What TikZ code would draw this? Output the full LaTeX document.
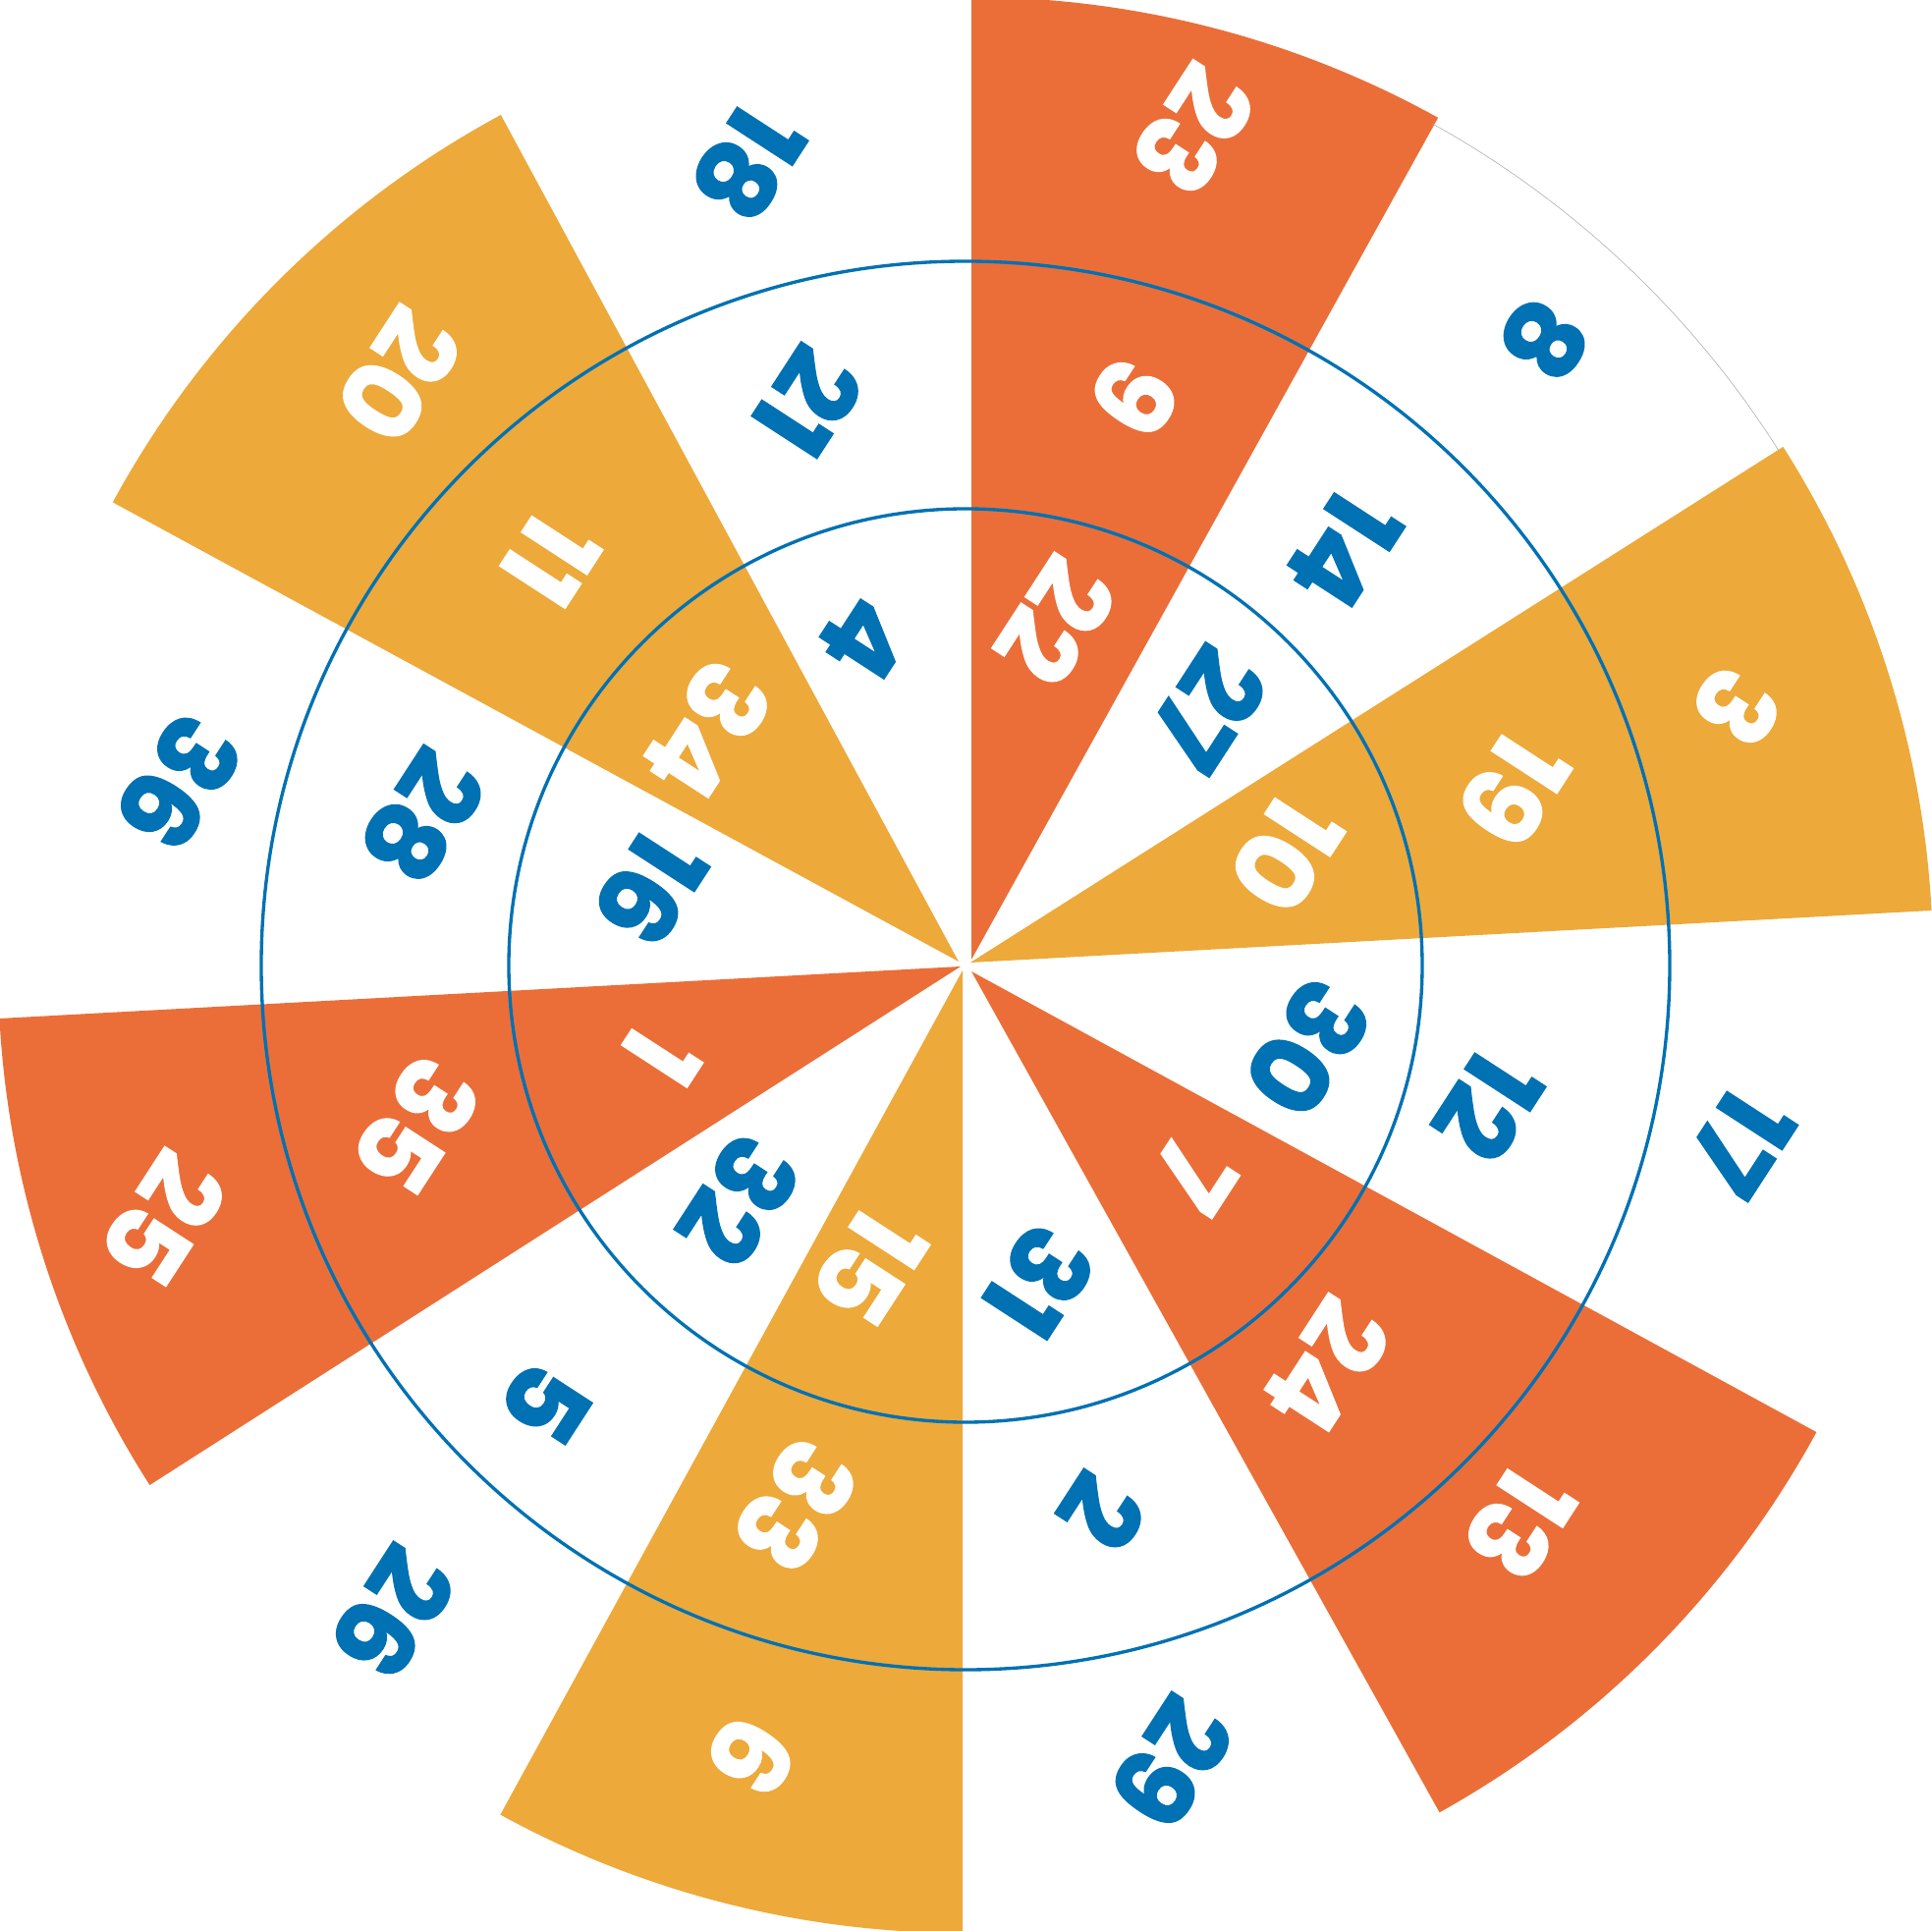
\documentclass[tikz,border=0pt]{standalone}
\usepackage{fontspec}
\setmainfont{Poppins}[BoldFeatures={FakeBold=1.2}]
\definecolor{wheelred}{RGB}{235,110,56}
\definecolor{wheelyellow}{RGB}{237,169,58}
\definecolor{wheelblue}{RGB}{0,113,179}

\begin{document}
\begin{tikzpicture}[
  x=1cm, y=1cm,
  every node/.style={inner sep=0pt},
  num/.style={font=\bfseries\fontsize{31}{31}\selectfont, rotate=-123},
  onpie/.style={num, text=white},
  onblank/.style={num, text=wheelblue},
  redpie/.style={fill=wheelred},
  yellowpie/.style={fill=wheelyellow},
  ring/.style={draw=wheelblue, line width=0.95pt},
  rim/.style={draw=black!35, line width=0.15pt}]

  \useasboundingbox (-9.83,-9.83) rectangle (9.83,9.83);

  % coloured sectors, each one from its own tip
  \fill[redpie,    shift={(0.06,0.06)}]   (0,0) -- (90:9.8)    arc[start angle=90,    end angle=61,     radius=9.8] -- cycle;
  \fill[yellowpie, shift={(0.05,0.03)}]   (0,0) -- (32.4:9.8)  arc[start angle=32.4,  end angle=3.1,    radius=9.8] -- cycle;
  \fill[redpie,    shift={(0.06,-0.06)}]  (0,0) -- (-28.6:9.8) arc[start angle=-28.6, end angle=-60.9,  radius=9.8] -- cycle;
  \fill[yellowpie, shift={(-0.03,-0.05)}] (0,0) -- (-90:9.8)   arc[start angle=-90,   end angle=-118.7, radius=9.8] -- cycle;
  \fill[redpie,    shift={(-0.05,-0.01)}] (0,0) -- (-147.4:9.8) arc[start angle=-147.4, end angle=-176.9, radius=9.8] -- cycle;
  \fill[yellowpie, shift={(-0.07,0.04)}]  (0,0) -- (151.5:9.8) arc[start angle=151.5, end angle=118.4,  radius=9.8] -- cycle;

  % faint rim of the blank sector at the upper right
  \draw[rim] (61:9.8) arc[start angle=61, end angle=32.4, radius=9.8];

  % rings
  \coordinate (c) at (0,0);
  \draw[ring] (c) circle[radius=4.65];
  \draw[ring] (c) circle[radius=7.17];

  % outer ring
  \node[onpie]   (o23) at ( 2.32, 8.51) {23};
  \node[onblank] (o8)  at ( 5.89, 6.37) {8};
  \node[onpie]   (o3)  at ( 7.85, 2.63) {3};
  \node[onblank] (o17) at ( 7.89,-1.80) {17};
  \node[onpie]   (o13) at ( 5.64,-5.68) {13};
  \node[onblank] (o29) at ( 2.10,-8.11) {29};
  \node[onpie]   (o6)  at (-2.18,-8.05) {6};
  \node[onblank] (o26) at (-5.83,-6.59) {26};
  \node[onpie]   (o25) at (-8.16,-2.58) {25};
  \node[onblank] (o36) at (-8.01, 1.86) {36};
  \node[onpie]   (o20) at (-5.77, 6.01) {20};
  \node[onblank] (o18) at (-2.22, 8.17) {18};

  % middle ring
  \node[onpie]   (m9)  at ( 1.72, 5.79) {9};
  \node[onblank] (m14) at ( 3.85, 4.23) {14};
  \node[onpie]   (m19) at ( 5.58, 1.79) {19};
  \node[onblank] (m12) at ( 5.32,-1.43) {12};
  \node[onpie]   (m24) at ( 3.68,-4.08) {24};
  \node[onblank] (m2)  at ( 1.39,-5.56) {2};
  \node[onpie]   (m33) at (-1.73,-5.50) {33};
  \node[onblank] (m5)  at (-4.27,-4.45) {5};
  \node[onpie]   (m35) at (-5.59,-1.63) {35};
  \node[onblank] (m28) at (-5.53, 1.52) {28};
  \node[onpie]   (m11) at (-4.23, 4.13) {11};
  \node[onblank] (m21) at (-1.60, 5.74) {21};

  % inner ring
  \node[onpie]   (i22) at ( 0.92, 3.51) {22};
  \node[onblank] (i27) at ( 2.47, 2.61) {27};
  \node[onpie]   (i10) at ( 3.26, 1.13) {10};
  \node[onblank] (i30) at ( 3.48,-0.84) {30};
  \node[onpie]   (i7)  at ( 2.32,-2.14) {7};
  \node[onblank] (i31) at ( 0.75,-3.22) {31};
  \node[onpie]   (i15) at (-0.98,-3.07) {15};
  \node[onblank] (i32) at (-2.31,-2.39) {32};
  \node[onpie]   (i1)  at (-3.10,-0.92) {1};
  \node[onblank] (i16) at (-3.21, 0.78) {16};
  \node[onpie]   (i34) at (-2.63, 2.39) {34};
  \node[onblank] (i4)  at (-1.03, 3.33) {4};
\end{tikzpicture}
\end{document}
